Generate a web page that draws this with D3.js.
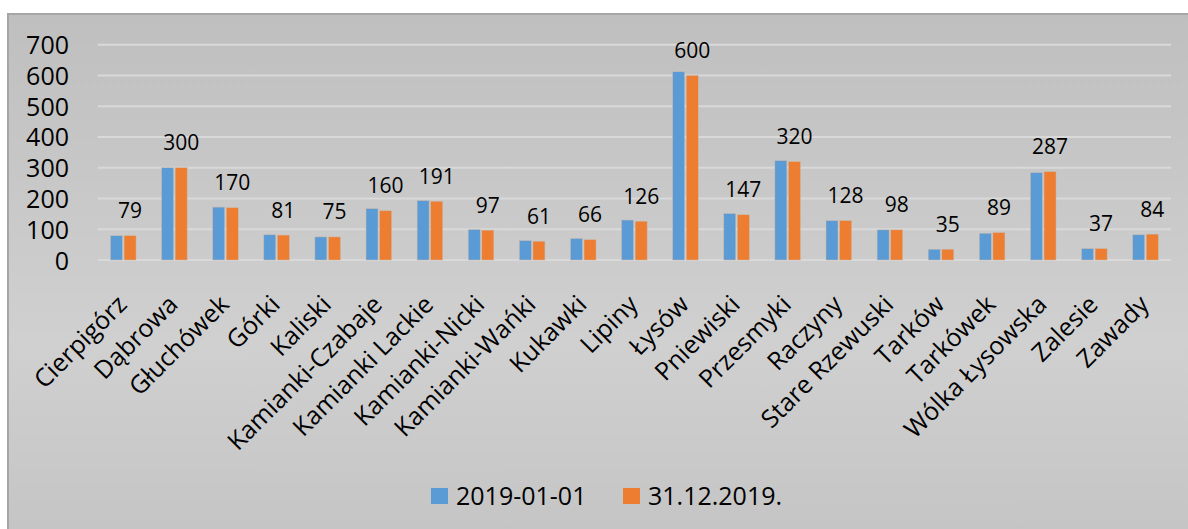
<!DOCTYPE html>
<html><head><meta charset="utf-8">
<script src="https://cdn.jsdelivr.net/npm/d3@7"></script>
<style>body{margin:0;background:#fff;}svg{display:block;}</style>
</head><body>
<svg id="c" width="1188" height="529"></svg>
<script>
const categories = ["Cierpigórz","Dąbrowa","Głuchówek","Górki","Kaliski","Kamianki-Czabaje","Kamianki Lackie","Kamianki-Nicki","Kamianki-Wańki","Kukawki","Lipiny","Łysów","Pniewiski","Przesmyki","Raczyny","Stare Rzewuski","Tarków","Tarkówek","Wólka Łysowska","Zalesie","Zawady"];
const seriesNames = ["2019-01-01","31.12.2019."];
const start2019 = [79,300,172,82,75,167,193,99,63,70,130,612,151,323,128,98,35,87,284,37,82];
const end2019 = [79,300,170,81,75,160,191,97,61,66,126,600,147,320,128,98,35,89,287,37,84];
const yTicks = [0,100,200,300,400,500,600,700];
const colors = ["#5b9bd5","#ed7d31"];

const svg = d3.select("#c");
const font = "'Open Sans', sans-serif";
const defs = svg.append("defs");
const g = defs.append("linearGradient").attr("id","bg").attr("x1",0).attr("y1",0).attr("x2",0).attr("y2",1);
g.append("stop").attr("offset","0%").attr("stop-color","#bfbfbf");
g.append("stop").attr("offset","62%").attr("stop-color","#d0d0d0");
g.append("stop").attr("offset","100%").attr("stop-color","#c4c4c4");

svg.append("rect").attr("x",8).attr("y",14).attr("width",1190).attr("height",530)
  .attr("fill","url(#bg)").attr("stroke","#a6a6a6").attr("stroke-width",2);

const x0 = d3.scaleBand().domain(categories).range([97.7,1171]);
const y = d3.scaleLinear().domain([0,700]).range([260,44.7]);
const x1 = d3.scaleBand().domain([0,1]).range([x0.bandwidth()*0.25, x0.bandwidth()*0.75]).paddingInner(0.12);

// gridlines
svg.append("g").selectAll("line").data(yTicks).join("line")
  .attr("x1",97.7).attr("x2",1171).attr("y1",d=>y(d)).attr("y2",d=>y(d))
  .attr("stroke","#d9d9d9").attr("stroke-width",2);

// y axis
const yAxis = d3.axisLeft(y).tickValues(yTicks).tickSize(0).tickPadding(0);
const ya = svg.append("g").attr("transform","translate(69,0)").call(yAxis);
ya.select(".domain").remove();
ya.selectAll("text").attr("font-family",font).attr("font-size",25).attr("fill","#000").attr("dy","0.36em");

// bars
const series = [start2019, end2019];
const grp = svg.append("g").selectAll("g").data(categories).join("g")
  .attr("transform",d=>`translate(${x0(d)},0)`);
grp.selectAll("rect").data((d,i)=>series.map((s,k)=>({k,v:s[i]}))).join("rect")
  .attr("x",d=>x1(d.k)).attr("width",x1.bandwidth())
  .attr("y",d=>y(d.v)).attr("height",d=>y(0)-y(d.v))
  .attr("fill",d=>colors[d.k]).attr("stroke","#c9b7a8").attr("stroke-width",0.5);

// data labels (second series)
svg.append("g").selectAll("text").data(categories).join("text")
  .attr("x",(d,i)=>x0(d)+x1(1)+x1.bandwidth()/2)
  .attr("y",(d,i)=>y(end2019[i])-17.5)
  .attr("text-anchor","middle").attr("font-family",font).attr("font-size",21).attr("fill","#000")
  .text((d,i)=>end2019[i]);

// x axis labels
const xa = svg.append("g").attr("transform","translate(0,260)")
  .call(d3.axisBottom(x0).tickSize(0).tickPadding(0));
xa.select(".domain").remove();
xa.selectAll("text").attr("font-family",font).attr("font-size",25).attr("fill","#000")
  .attr("text-anchor","end").attr("y",0).attr("dy",0)
  .attr("transform","translate(5,46) rotate(-45)");

// legend
const leg = svg.append("g");
const lx = [431,623];
seriesNames.forEach((n,k)=>{
  leg.append("rect").attr("x",lx[k]).attr("y",488).attr("width",17).attr("height",16).attr("fill",colors[k]);
  leg.append("text").attr("x",lx[k]+25).attr("y",505).attr("font-family",font).attr("font-size",25).attr("fill","#000").text(n);
});
</script>
</body></html>
